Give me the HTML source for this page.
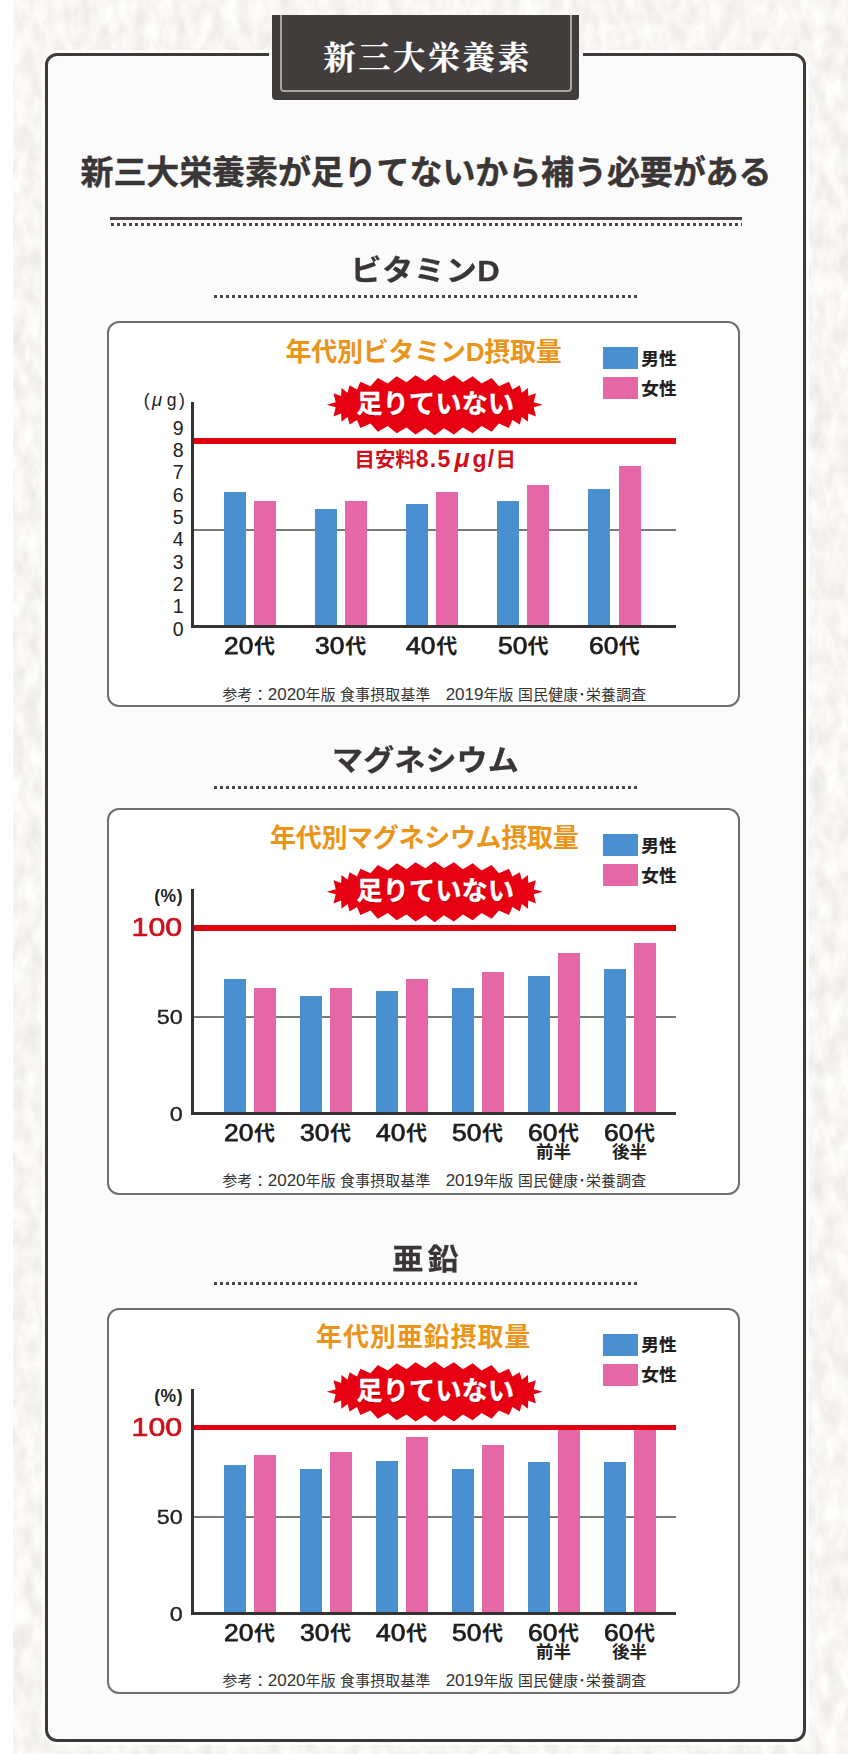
<!DOCTYPE html>
<html lang="ja"><head><meta charset="utf-8"><title>新三大栄養素</title>
<style>
html,body{margin:0;padding:0;background:#fff}
body{width:855px;height:1754px;position:relative;overflow:hidden;font-family:"Liberation Sans","Noto Sans CJK JP",sans-serif;color:#3a3635}
*{box-sizing:border-box}
.tex{position:absolute;left:13px;top:0;width:835px;height:1754px;background:#f2f1f0}
.frame{position:absolute;left:45.3px;top:53px;width:760.8px;height:1688.7px;border:3px solid #3e3a39;border-radius:12px;background:#fbfbfb;box-shadow:0 0 0 3px rgba(255,255,255,.7)}
.badge{position:absolute;left:272px;top:14.5px;width:307px;height:85px;background:#413d3c;border-radius:0 0 4px 4px}
.gap{position:absolute;top:52px;width:3.5px;height:5px;background:#f8f8f7}
.badge:before{content:"";box-sizing:border-box;position:absolute;left:8px;top:0;width:291.5px;height:77.7px;border:2px solid #aaa5a2;border-top:none;border-radius:0 0 4px 4px}
.badge span{position:absolute;left:0;width:307px;top:25.5px;text-align:center;font-family:"Liberation Serif","Noto Serif CJK JP","Noto Serif CJK SC",serif;font-weight:700;font-size:32px;line-height:36px;letter-spacing:2.8px;color:#fff;text-indent:5px;-webkit-text-stroke:0.3px #fff}
.t{position:absolute;white-space:nowrap;line-height:1}
.r{position:absolute}
.h1{font-weight:700;font-size:33px;line-height:40px;letter-spacing:-0.1px;color:#3a3635;-webkit-text-stroke:0.4px #3a3635}
.h2{font-weight:700;font-size:29px;line-height:36px;color:#3a3635;left:0;width:851px;text-align:center;transform:scaleX(1.07);transform-origin:50% 50%;-webkit-text-stroke:0.3px #3a3635}
.dot{position:absolute;height:3.2px;background:repeating-linear-gradient(90deg,#4a4544 0,#4a4544 3px,transparent 3px,transparent 6px)}
.cbox{position:absolute;left:107.2px;width:633.2px;border:2.5px solid #736e6d;border-radius:12px;background:#fff}
.ctitle{font-weight:700;font-size:26px;line-height:30px;color:#ea9419}
.lg{font-weight:700;font-size:17.6px;line-height:20px;color:#1e1e1e;-webkit-text-stroke:0.2px #1e1e1e}
.xl{font-weight:700;font-size:21px;line-height:24px;color:#1e1e1e}
.xl .dg{display:inline-block;font-size:24px;line-height:24px;font-weight:400;-webkit-text-stroke:0.75px #1e1e1e;position:relative;top:0.9px;transform:scaleX(1.1);transform-origin:0 50%;width:29.4px;text-align:left;margin-right:0.5px;vertical-align:baseline}
.xs{font-weight:700;font-size:17.5px;line-height:18px;color:#222}
.yl{font-size:19.5px;line-height:20px;color:#222}
.yl.w{transform:scaleX(1.2);transform-origin:100% 50%;font-size:19.5px;-webkit-text-stroke:0.3px #222}
.yu{font-size:17.5px;line-height:20px;color:#222;letter-spacing:2.5px}
.yu i{font-size:18.5px;margin-right:2px}
.pc{font-weight:700;font-size:17.5px;line-height:18px;color:#222;letter-spacing:0.6px}
.hund{font-size:26.5px;line-height:27px;color:#cf1019;transform:scaleX(1.145);transform-origin:100% 50%;-webkit-text-stroke:0.65px #cf1019}
.meyasu{font-weight:700;font-size:20.4px;line-height:24px;color:#cf101a}
.meyasu span{font-size:23px;letter-spacing:1.3px}
.meyasu i{margin:0 1.5px 0 3px;font-size:25px}
.star{position:absolute;left:0;top:0}
.tari{font-weight:700;font-size:26px;line-height:30px;color:#fff;text-shadow:0.5px 0.8px 1px #a8000a;-webkit-text-stroke:0.4px #fff;letter-spacing:0.3px}
.foot{font-size:14.8px;line-height:18px;color:#333;letter-spacing:0.28px}
.foot b{font-weight:400;font-size:17px;letter-spacing:0}
</style></head><body>
<svg class="tex" width="835" height="1754" viewBox="0 0 835 1754"><defs><filter id="paper" x="0" y="0" width="100%" height="100%" color-interpolation-filters="sRGB"><feTurbulence type="fractalNoise" baseFrequency="0.075 0.04" numOctaves="3" seed="7"/><feColorMatrix type="matrix" values="0.13 0 0 0 0.905  0.13 0 0 0 0.898  0.13 0 0 0 0.888  0 0 0 0 1"/></filter></defs><rect width="835" height="1754" fill="#f2f1f0"/><rect width="835" height="1754" filter="url(#paper)"/></svg>
<div class="frame"></div>
<div class="gap" style="left:268.5px"></div><div class="gap" style="left:579px"></div>
<div class="badge"><span>新三大栄養素</span></div>
<div class="t h1" style="left:80.5px;top:153px">新三大栄養素が足りてないから補う必要がある</div>
<div class="r" style="left:109.5px;top:217px;width:632px;height:3px;background:#4a4544"></div>
<div class="dot" style="left:110.5px;top:223.3px;width:631px"></div>
<div class="t h2" style="top:252.5px;letter-spacing:0.6px">ビタミンD</div>
<div class="dot" style="left:214px;top:295px;width:423px"></div>
<div class="t h2" style="top:743px;letter-spacing:0.1px">マグネシウム</div>
<div class="dot" style="left:214px;top:785.5px;width:423px"></div>
<div class="t h2" style="top:1242px;letter-spacing:4px;text-indent:4px">亜鉛</div>
<div class="dot" style="left:214px;top:1281.5px;width:423px"></div>
<div class="cbox" style="top:321px;height:385.8px"></div>
<div class="t ctitle" style="left:285.5px;top:336.5px;letter-spacing:-0.25px">年代別ビタミンD摂取量</div>
<div class="r" style="left:603px;top:347.2px;width:35.3px;height:22px;background:#4a90d0;"></div>
<div class="r" style="left:603px;top:377.4px;width:35.3px;height:21.8px;background:#e667a5;"></div>
<div class="t lg" style="left:641.3px;top:348.5px;">男性</div>
<div class="t lg" style="left:641.3px;top:378.5px;">女性</div>
<div class="r" style="left:193px;top:529px;width:483px;height:2px;background:#7b7878;"></div>
<div class="r" style="left:223.5px;top:492px;width:22px;height:134.5px;background:#4a90d0;"></div>
<div class="r" style="left:253.7px;top:500.8px;width:22px;height:125.7px;background:#e667a5;"></div>
<div class="t xl" style="left:149.5px;top:633.3px;width:200px;text-align:center;"><span class="dg">20</span>代</div>
<div class="r" style="left:314.7px;top:509.3px;width:22px;height:117.2px;background:#4a90d0;"></div>
<div class="r" style="left:344.9px;top:500.8px;width:22px;height:125.7px;background:#e667a5;"></div>
<div class="t xl" style="left:240.7px;top:633.3px;width:200px;text-align:center;"><span class="dg">30</span>代</div>
<div class="r" style="left:405.9px;top:504.3px;width:22px;height:122.2px;background:#4a90d0;"></div>
<div class="r" style="left:436.1px;top:492px;width:22px;height:134.5px;background:#e667a5;"></div>
<div class="t xl" style="left:331.9px;top:633.3px;width:200px;text-align:center;"><span class="dg">40</span>代</div>
<div class="r" style="left:497.1px;top:500.7px;width:22px;height:125.8px;background:#4a90d0;"></div>
<div class="r" style="left:527.3px;top:485px;width:22px;height:141.5px;background:#e667a5;"></div>
<div class="t xl" style="left:423.1px;top:633.3px;width:200px;text-align:center;"><span class="dg">50</span>代</div>
<div class="r" style="left:588.3px;top:489px;width:22px;height:137.5px;background:#4a90d0;"></div>
<div class="r" style="left:618.5px;top:465.6px;width:22px;height:160.9px;background:#e667a5;"></div>
<div class="t xl" style="left:514.3px;top:633.3px;width:200px;text-align:center;"><span class="dg">60</span>代</div>
<div class="r" style="left:193px;top:437.85px;width:483px;height:5.8px;background:#e0000f;"></div>
<div class="r" style="left:190.6px;top:402px;width:3.4px;height:226px;background:#353232;"></div>
<div class="r" style="left:190.6px;top:625px;width:485.4px;height:3.2px;background:#353232;"></div>
<div class="t yl" style="right:671.4px;top:618.5px;">0</div>
<div class="t yl" style="right:671.4px;top:596.167px;">1</div>
<div class="t yl" style="right:671.4px;top:573.833px;">2</div>
<div class="t yl" style="right:671.4px;top:551.5px;">3</div>
<div class="t yl" style="right:671.4px;top:529.167px;">4</div>
<div class="t yl" style="right:671.4px;top:506.833px;">5</div>
<div class="t yl" style="right:671.4px;top:484.5px;">6</div>
<div class="t yl" style="right:671.4px;top:462.167px;">7</div>
<div class="t yl" style="right:671.4px;top:439.833px;">8</div>
<div class="t yl" style="right:671.4px;top:417.5px;">9</div>
<div class="t yu" style="right:667.7px;top:390px;">(<i>μ</i>g)</div>
<div class="t meyasu" style="left:354.5px;top:445.8px;">目安料<span>8.5<i>μ</i>g/</span>日</div>
<svg class="star" width="855" height="1754" viewBox="0 0 855 1754"><polygon points="326.7,404.8 335.7,402.3 333.5,393.2 341.1,396.0 341.5,387.9 347.6,392.7 349.6,385.2 357.0,389.6 360.4,381.7 370.5,386.2 377.8,377.9 387.8,383.6 396.7,376.3 406.5,382.2 415.5,375.2 425.4,381.3 434.7,374.4 444.0,381.3 453.9,375.2 462.9,382.2 472.7,376.3 481.6,383.6 491.6,377.9 498.9,386.2 509.0,381.7 512.4,389.6 519.8,385.2 521.8,392.7 527.9,387.9 528.3,396.0 535.9,393.2 533.7,402.3 542.7,404.8 533.7,407.3 535.9,416.4 528.3,413.6 527.9,421.7 521.8,416.9 519.8,424.4 512.4,420.0 509.0,427.9 498.9,423.4 491.6,431.7 481.6,426.0 472.7,433.3 462.9,427.4 453.9,434.4 444.0,428.3 434.7,435.2 425.4,428.3 415.5,434.4 406.5,427.4 396.7,433.3 387.8,426.0 377.8,431.7 370.5,423.4 360.4,427.9 357.0,420.0 349.6,424.4 347.6,416.9 341.5,421.7 341.1,413.6 333.5,416.4 335.7,407.3" fill="#e60012"/></svg>
<div class="t tari" style="left:335.4px;top:389.1px;width:200px;text-align:center;">足りていない</div>
<div class="t foot" style="left:222.5px;top:685.5px;">参考：<b>2020</b>年版 食事摂取基準　<b>2019</b>年版 国民健康･栄養調査</div>
<div class="cbox" style="top:808px;height:387px"></div>
<div class="t ctitle" style="left:270px;top:822.5px;letter-spacing:-0.3px">年代別マグネシウム摂取量</div>
<div class="r" style="left:603px;top:834.2px;width:35.3px;height:22px;background:#4a90d0;"></div>
<div class="r" style="left:603px;top:864.4px;width:35.3px;height:21.8px;background:#e667a5;"></div>
<div class="t lg" style="left:641.3px;top:835.5px;">男性</div>
<div class="t lg" style="left:641.3px;top:865.5px;">女性</div>
<div class="r" style="left:193px;top:1016px;width:483px;height:2px;background:#7b7878;"></div>
<div class="r" style="left:223.5px;top:978.7px;width:22px;height:134.8px;background:#4a90d0;"></div>
<div class="r" style="left:253.7px;top:987.6px;width:22px;height:125.9px;background:#e667a5;"></div>
<div class="t xl" style="left:149.5px;top:1120px;width:200px;text-align:center;"><span class="dg">20</span>代</div>
<div class="r" style="left:299.5px;top:995.7px;width:22px;height:117.8px;background:#4a90d0;"></div>
<div class="r" style="left:329.7px;top:987.6px;width:22px;height:125.9px;background:#e667a5;"></div>
<div class="t xl" style="left:225.5px;top:1120px;width:200px;text-align:center;"><span class="dg">30</span>代</div>
<div class="r" style="left:375.5px;top:990.7px;width:22px;height:122.8px;background:#4a90d0;"></div>
<div class="r" style="left:405.7px;top:978.7px;width:22px;height:134.8px;background:#e667a5;"></div>
<div class="t xl" style="left:301.5px;top:1120px;width:200px;text-align:center;"><span class="dg">40</span>代</div>
<div class="r" style="left:451.5px;top:988px;width:22px;height:125.5px;background:#4a90d0;"></div>
<div class="r" style="left:481.7px;top:972.2px;width:22px;height:141.3px;background:#e667a5;"></div>
<div class="t xl" style="left:377.5px;top:1120px;width:200px;text-align:center;"><span class="dg">50</span>代</div>
<div class="r" style="left:527.5px;top:976.4px;width:22px;height:137.1px;background:#4a90d0;"></div>
<div class="r" style="left:557.7px;top:952.5px;width:22px;height:161px;background:#e667a5;"></div>
<div class="t xl" style="left:453.5px;top:1120px;width:200px;text-align:center;"><span class="dg">60</span>代</div>
<div class="t xs" style="left:453.5px;top:1143px;width:200px;text-align:center;">前半</div>
<div class="r" style="left:603.5px;top:969px;width:22px;height:144.5px;background:#4a90d0;"></div>
<div class="r" style="left:633.7px;top:942.9px;width:22px;height:170.6px;background:#e667a5;"></div>
<div class="t xl" style="left:529.5px;top:1120px;width:200px;text-align:center;"><span class="dg">60</span>代</div>
<div class="t xs" style="left:529.5px;top:1143px;width:200px;text-align:center;">後半</div>
<div class="r" style="left:193px;top:924.9px;width:483px;height:5.8px;background:#e0000f;"></div>
<div class="r" style="left:190.6px;top:888.5px;width:3.4px;height:226.5px;background:#353232;"></div>
<div class="r" style="left:190.6px;top:1112px;width:485.4px;height:3.2px;background:#353232;"></div>
<div class="t pc" style="right:671.8px;top:886.7px;">(%)</div>
<div class="t hund" style="right:673px;top:914.2px;">100</div>
<div class="t yl w" style="right:672.5px;top:1006.8px;">50</div>
<div class="t yl w" style="right:672.5px;top:1103.8px;">0</div>
<svg class="star" width="855" height="1754" viewBox="0 0 855 1754"><polygon points="326.7,891.8 335.7,889.3 333.5,880.2 341.1,883.0 341.5,874.9 347.6,879.7 349.6,872.2 357.0,876.6 360.4,868.7 370.5,873.2 377.8,864.9 387.8,870.6 396.7,863.3 406.5,869.2 415.5,862.2 425.4,868.3 434.7,861.4 444.0,868.3 453.9,862.2 462.9,869.2 472.7,863.3 481.6,870.6 491.6,864.9 498.9,873.2 509.0,868.7 512.4,876.6 519.8,872.2 521.8,879.7 527.9,874.9 528.3,883.0 535.9,880.2 533.7,889.3 542.7,891.8 533.7,894.3 535.9,903.4 528.3,900.6 527.9,908.7 521.8,903.9 519.8,911.4 512.4,907.0 509.0,914.9 498.9,910.4 491.6,918.7 481.6,913.0 472.7,920.3 462.9,914.4 453.9,921.4 444.0,915.3 434.7,922.2 425.4,915.3 415.5,921.4 406.5,914.4 396.7,920.3 387.8,913.0 377.8,918.7 370.5,910.4 360.4,914.9 357.0,907.0 349.6,911.4 347.6,903.9 341.5,908.7 341.1,900.6 333.5,903.4 335.7,894.3" fill="#e60012"/></svg>
<div class="t tari" style="left:335.4px;top:876.1px;width:200px;text-align:center;">足りていない</div>
<div class="t foot" style="left:222.5px;top:1171.5px;">参考：<b>2020</b>年版 食事摂取基準　<b>2019</b>年版 国民健康･栄養調査</div>
<div class="cbox" style="top:1307.5px;height:386.5px"></div>
<div class="t ctitle" style="left:316px;top:1321.5px;letter-spacing:0.9px">年代別亜鉛摂取量</div>
<div class="r" style="left:603px;top:1333.6px;width:35.3px;height:22px;background:#4a90d0;"></div>
<div class="r" style="left:603px;top:1363.8px;width:35.3px;height:21.8px;background:#e667a5;"></div>
<div class="t lg" style="left:641.3px;top:1334.9px;">男性</div>
<div class="t lg" style="left:641.3px;top:1364.9px;">女性</div>
<div class="r" style="left:193px;top:1516px;width:483px;height:2px;background:#7b7878;"></div>
<div class="r" style="left:223.5px;top:1465.3px;width:22px;height:148.2px;background:#4a90d0;"></div>
<div class="r" style="left:253.7px;top:1455.2px;width:22px;height:158.3px;background:#e667a5;"></div>
<div class="t xl" style="left:149.5px;top:1620px;width:200px;text-align:center;"><span class="dg">20</span>代</div>
<div class="r" style="left:299.5px;top:1468.5px;width:22px;height:145px;background:#4a90d0;"></div>
<div class="r" style="left:329.7px;top:1452px;width:22px;height:161.5px;background:#e667a5;"></div>
<div class="t xl" style="left:225.5px;top:1620px;width:200px;text-align:center;"><span class="dg">30</span>代</div>
<div class="r" style="left:375.5px;top:1461.4px;width:22px;height:152.1px;background:#4a90d0;"></div>
<div class="r" style="left:405.7px;top:1437px;width:22px;height:176.5px;background:#e667a5;"></div>
<div class="t xl" style="left:301.5px;top:1620px;width:200px;text-align:center;"><span class="dg">40</span>代</div>
<div class="r" style="left:451.5px;top:1468.8px;width:22px;height:144.7px;background:#4a90d0;"></div>
<div class="r" style="left:481.7px;top:1445.2px;width:22px;height:168.3px;background:#e667a5;"></div>
<div class="t xl" style="left:377.5px;top:1620px;width:200px;text-align:center;"><span class="dg">50</span>代</div>
<div class="r" style="left:527.5px;top:1461.8px;width:22px;height:151.7px;background:#4a90d0;"></div>
<div class="r" style="left:557.7px;top:1427.5px;width:22px;height:186px;background:#e667a5;"></div>
<div class="t xl" style="left:453.5px;top:1620px;width:200px;text-align:center;"><span class="dg">60</span>代</div>
<div class="t xs" style="left:453.5px;top:1643px;width:200px;text-align:center;">前半</div>
<div class="r" style="left:603.5px;top:1461.8px;width:22px;height:151.7px;background:#4a90d0;"></div>
<div class="r" style="left:633.7px;top:1427.5px;width:22px;height:186px;background:#e667a5;"></div>
<div class="t xl" style="left:529.5px;top:1620px;width:200px;text-align:center;"><span class="dg">60</span>代</div>
<div class="t xs" style="left:529.5px;top:1643px;width:200px;text-align:center;">後半</div>
<div class="r" style="left:193px;top:1424.6px;width:483px;height:5.8px;background:#e0000f;"></div>
<div class="r" style="left:190.6px;top:1388.5px;width:3.4px;height:226.5px;background:#353232;"></div>
<div class="r" style="left:190.6px;top:1612px;width:485.4px;height:3.2px;background:#353232;"></div>
<div class="t pc" style="right:671.8px;top:1386.7px;">(%)</div>
<div class="t hund" style="right:673px;top:1413.9px;">100</div>
<div class="t yl w" style="right:672.5px;top:1506.8px;">50</div>
<div class="t yl w" style="right:672.5px;top:1603.8px;">0</div>
<svg class="star" width="855" height="1754" viewBox="0 0 855 1754"><polygon points="326.7,1391.8 335.7,1389.3 333.5,1380.2 341.1,1383.0 341.5,1374.9 347.6,1379.7 349.6,1372.2 357.0,1376.6 360.4,1368.7 370.5,1373.2 377.8,1364.9 387.8,1370.6 396.7,1363.3 406.5,1369.2 415.5,1362.2 425.4,1368.3 434.7,1361.4 444.0,1368.3 453.9,1362.2 462.9,1369.2 472.7,1363.3 481.6,1370.6 491.6,1364.9 498.9,1373.2 509.0,1368.7 512.4,1376.6 519.8,1372.2 521.8,1379.7 527.9,1374.9 528.3,1383.0 535.9,1380.2 533.7,1389.3 542.7,1391.8 533.7,1394.3 535.9,1403.4 528.3,1400.6 527.9,1408.7 521.8,1403.9 519.8,1411.4 512.4,1407.0 509.0,1414.9 498.9,1410.4 491.6,1418.7 481.6,1413.0 472.7,1420.3 462.9,1414.4 453.9,1421.4 444.0,1415.3 434.7,1422.2 425.4,1415.3 415.5,1421.4 406.5,1414.4 396.7,1420.3 387.8,1413.0 377.8,1418.7 370.5,1410.4 360.4,1414.9 357.0,1407.0 349.6,1411.4 347.6,1403.9 341.5,1408.7 341.1,1400.6 333.5,1403.4 335.7,1394.3" fill="#e60012"/></svg>
<div class="t tari" style="left:335.4px;top:1376.1px;width:200px;text-align:center;">足りていない</div>
<div class="t foot" style="left:222.5px;top:1672px;">参考：<b>2020</b>年版 食事摂取基準　<b>2019</b>年版 国民健康･栄養調査</div>
</body></html>
